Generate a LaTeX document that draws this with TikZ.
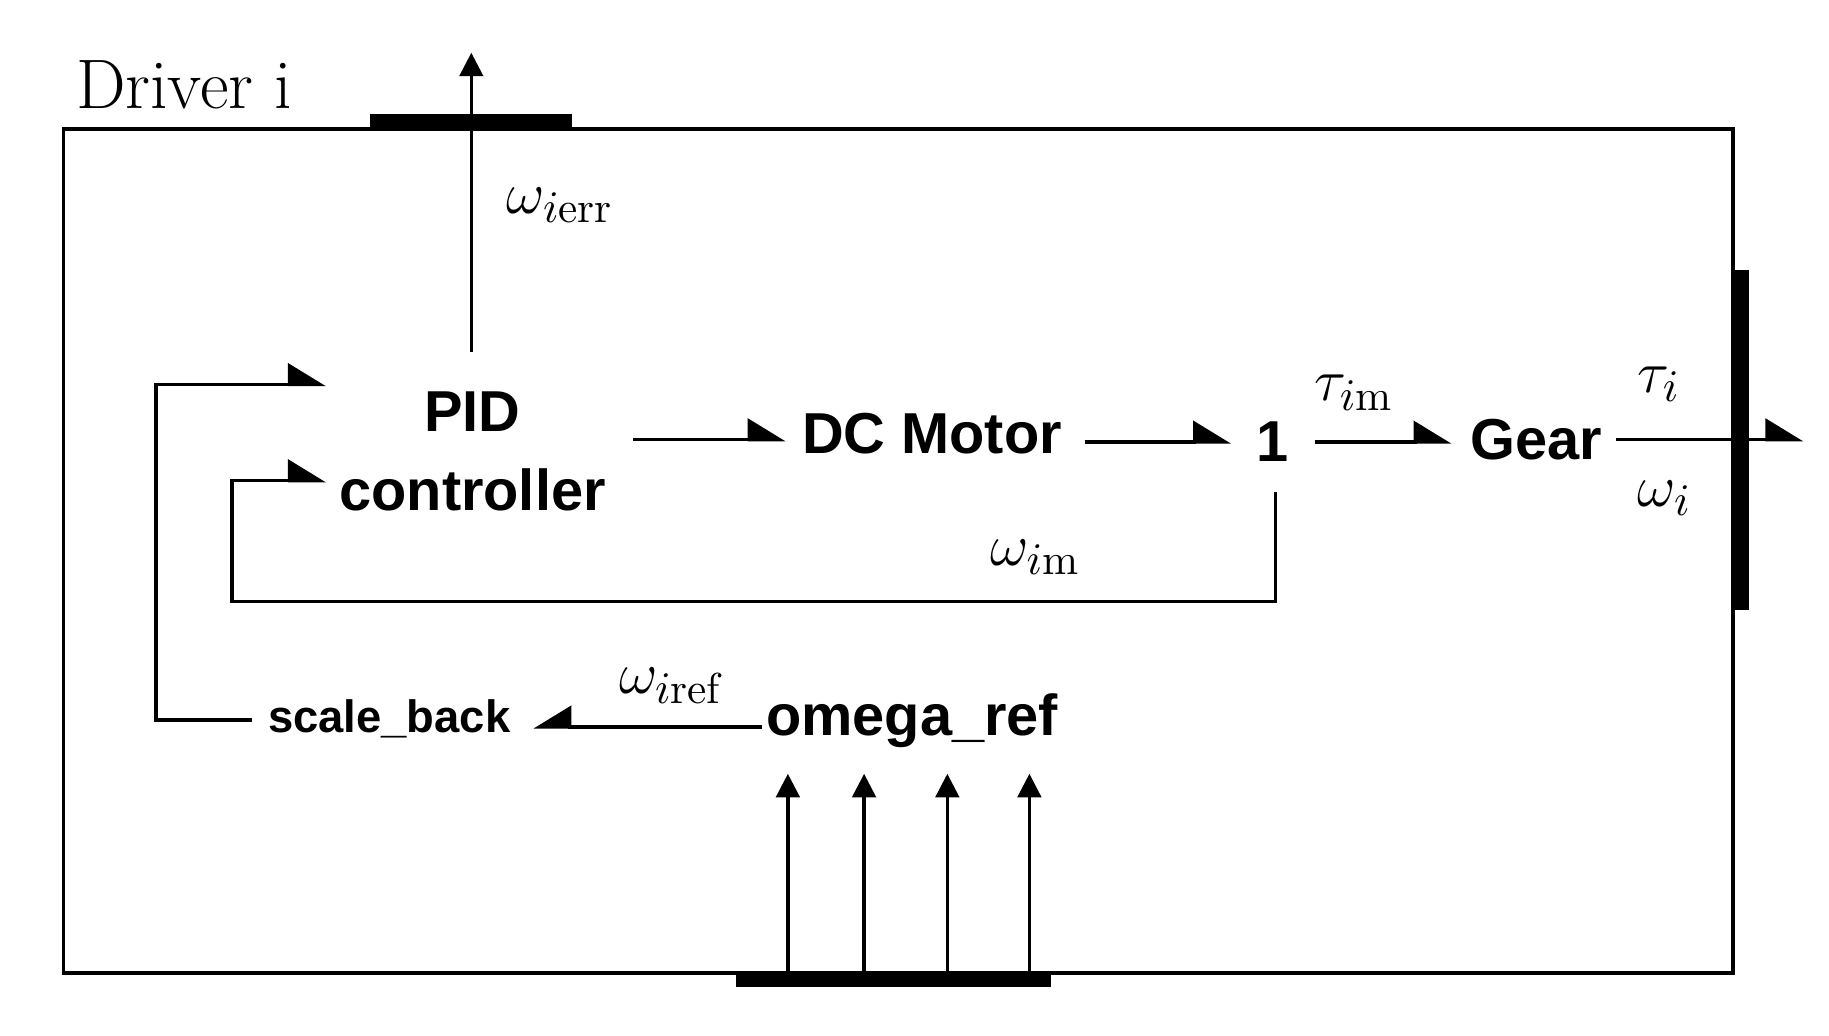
\documentclass[tikz,border=0pt]{standalone}
\usepackage{fontspec}
\newfontfamily\blocksans{Liberation Sans}
\usetikzlibrary{arrows.meta}
\tikzset{
	block/.style={font=\blocksans\bfseries\fontsize{14}{19}\selectfont, align=center, inner sep=0pt},
	sig/.style={font=\fontsize{15}{15}\selectfont, inner sep=0pt},
	port/.style={line width=0.12cm},
	flow/.style={thick, -{Triangle[harpoon, length=0.3cm, width=0.36cm]}},
	upflow/.style={thick, -{Triangle[length=0.2cm, width=0.2cm]}}
}
\begin{document}
\begin{tikzpicture}[x=0.01cm, y=-0.01cm]
	\useasboundingbox (0,0) rectangle (1560,883);
	\draw[thick] (54,110) rectangle (1478,830);
	\node[font=\fontsize{17}{17}\selectfont] (title) at (157,72) {Driver i};

	% ports
	\draw[port] (316,103) -- (488,103);
	\draw[port] (628,836) -- (896,836);
	\draw[port] (1486,230) -- (1486,520);

	% blocks
	\node[block] (pid) at (403,385) {PID\\controller};
	\node[block] (motor) at (795,370) {DC Motor};
	\node[block] (one) at (1085,377) {1};
	\node[block] (gear) at (1310,375) {Gear};
	\node[block] (ref) at (778,615) {omega\_ref};
	\node[block, font=\blocksans\bfseries\fontsize{11}{11}\selectfont] (back) at (332,613) {scale\_back};

	\coordinate (errout) at (402,45);
	\coordinate (out) at (1538,375);

	% signals
	\draw[upflow] (402,300) -- (errout);
	\node[sig] at (478,175) {$\omega_{i\mathrm{err}}$};
	\draw[flow] (540,375) -- (670,375);
	\draw[flow] (925,377) -- (1050,377);
	\draw[flow] (1122,377) -- (1238,377);
	\node[sig] at (1155,335) {$\tau_{i\mathrm{m}}$};
	\draw[flow] (1378,375) -- (out);
	\node[sig] at (1415,328) {$\tau_i$};
	\node[sig] at (1420,425) {$\omega_i$};
	\draw[flow] (1088,420) -- (1088,513) -- (198,513) -- (198,410) -- (278,410);
	\node[sig] at (883,475) {$\omega_{i\mathrm{m}}$};
	\draw[flow] (215,614) -- (133,614) -- (133,328) -- (278,328);
	\draw[thick, -{Triangle[harpoon, swap, length=0.3cm, width=0.36cm]}] (650,620) -- (455,620);
	\node[sig] at (572,585) {$\omega_{i\mathrm{ref}}$};

	\foreach \x in {672,737,808,878}
		\draw[upflow] (\x,833) -- (\x,660);
\end{tikzpicture}
\end{document}
